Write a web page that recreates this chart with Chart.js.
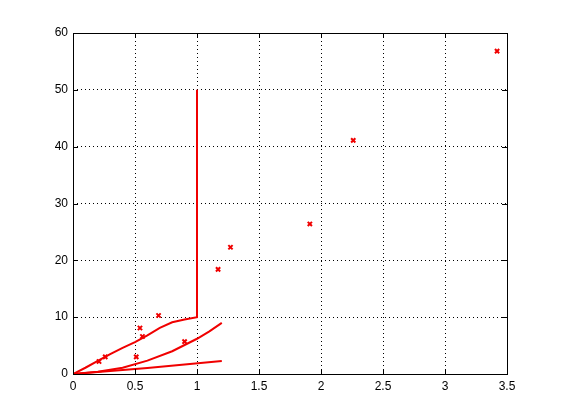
<!DOCTYPE html>
<html>
<head>
<meta charset="utf-8">
<script src="https://cdn.jsdelivr.net/npm/chart.js@4"></script>
<style>
  html, body { margin: 0; padding: 0; background: #fff; }
  #wrap { width: 561px; height: 420px; }
</style>
</head>
<body>
<div id="wrap"><canvas id="plot" width="561" height="420"></canvas></div>
<script>
// data
const upperX = [0, 0.1, 0.2, 0.3, 0.4, 0.5, 0.6, 0.7, 0.8, 0.9, 1.0, 1.0, 1.0];
const upperY = [0, 1.1, 2.3, 3.5, 4.6, 5.6, 6.8, 8.1, 9.1, 9.6, 10, 30, 50];

const midX = [0, 0.2, 0.4, 0.6, 0.8, 1.0, 1.1, 1.2];
const midY = [0, 0.4, 1.1, 2.35, 4.0, 6.2, 7.5, 9.0];

const lowX = [0, 0.6, 1.2];
const lowY = [0, 1.05, 2.3];

const markX = [0.21, 0.26, 0.51, 0.54, 0.56, 0.69, 0.90, 1.17, 1.27, 1.91, 2.26, 3.42];
const markY = [2.2, 3.0, 3.0, 8.1, 6.6, 10.3, 5.7, 18.4, 22.3, 26.4, 41.1, 56.8];

const xTicks = [0, 0.5, 1, 1.5, 2, 2.5, 3, 3.5];
const yTicks = [0, 10, 20, 30, 40, 50, 60];

const RED = '#f00000';

const toPts = (xs, ys) => xs.map((x, i) => ({ x: x, y: ys[i] }));

const lineSet = (xs, ys) => ({
  data: toPts(xs, ys),
  showLine: true,
  borderColor: RED,
  borderWidth: 2,
  pointRadius: 0,
  tension: 0,
});

// box round the axes + ticks pointing inwards, as matlab draws them
const boxPlugin = {
  id: 'box',
  afterDraw(chart) {
    const { ctx, chartArea: a, scales } = chart;
    ctx.save();
    ctx.strokeStyle = '#000';
    ctx.lineWidth = 1;
    ctx.strokeRect(a.left + 0.5, a.top + 0.5, a.right - a.left, a.bottom - a.top);
    ctx.beginPath();
    xTicks.forEach((v) => {
      const px = Math.round(scales.x.getPixelForValue(v)) + 0.5;
      ctx.moveTo(px, a.bottom);
      ctx.lineTo(px, a.bottom - 5);
      ctx.moveTo(px, a.top);
      ctx.lineTo(px, a.top + 5);
    });
    yTicks.forEach((v) => {
      const py = Math.round(scales.y.getPixelForValue(v)) + 0.5;
      ctx.moveTo(a.left, py);
      ctx.lineTo(a.left + 5, py);
      ctx.moveTo(a.right, py);
      ctx.lineTo(a.right - 5, py);
    });
    ctx.stroke();
    ctx.restore();
  },
};

const font = { family: 'Liberation Sans, Arial, sans-serif', size: 12 };
const plainNum = (v) => String(v);

new Chart(document.getElementById('plot'), {
  type: 'scatter',
  data: {
    datasets: [
      lineSet(upperX, upperY),
      lineSet(midX, midY),
      lineSet(lowX, lowY),
      {
        data: toPts(markX, markY),
        pointStyle: 'crossRot',
        pointRadius: 3,
        pointBorderWidth: 2,
        borderColor: RED,
        backgroundColor: RED,
        showLine: false,
      },
    ],
  },
  options: {
    responsive: false,
    animation: false,
    layout: { padding: { left: 0, right: 54, top: 33, bottom: 0 } },
    plugins: { legend: { display: false }, tooltip: { enabled: false } },
    scales: {
      x: {
        type: 'linear',
        min: 0,
        max: 3.5,
        afterFit: (s) => { s.height = 46; },
        afterBuildTicks: (s) => { s.ticks = xTicks.map((v) => ({ value: v })); },
        ticks: { color: '#000', font: font, padding: 5, maxRotation: 0, callback: plainNum },
        grid: { color: '#000', lineWidth: 1, drawTicks: false },
        border: { display: false, dash: [1, 3] },
      },
      y: {
        type: 'linear',
        min: 0,
        max: 60,
        afterFit: (s) => { s.width = 73; },
        afterBuildTicks: (s) => { s.ticks = yTicks.map((v) => ({ value: v })); },
        ticks: { color: '#000', font: font, padding: 5, callback: plainNum },
        grid: { color: '#000', lineWidth: 1, drawTicks: false },
        border: { display: false, dash: [1, 3] },
      },
    },
  },
  plugins: [boxPlugin],
});
</script>
</body>
</html>
